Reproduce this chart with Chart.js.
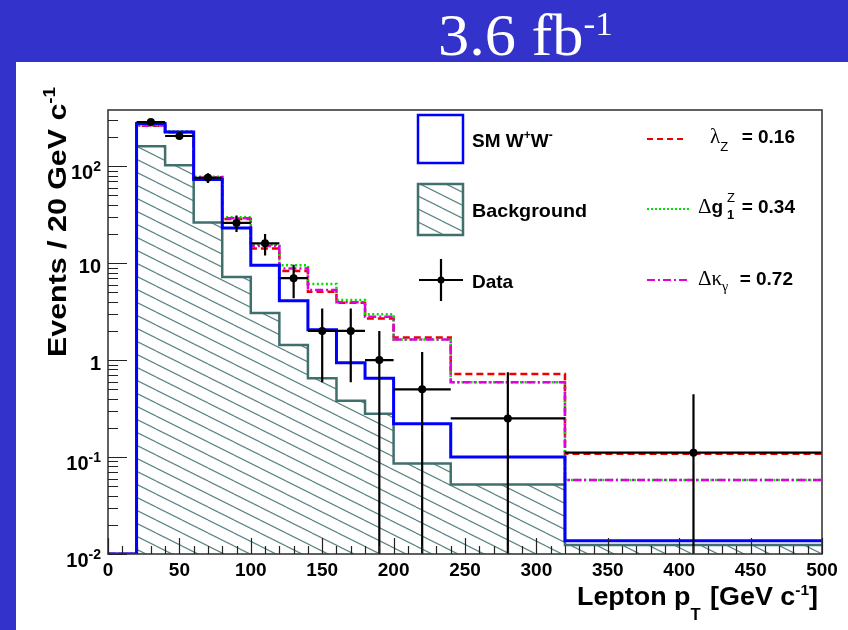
<!DOCTYPE html>
<html><head><meta charset="utf-8">
<script src="https://cdn.jsdelivr.net/npm/chart.js@4.4.0/dist/chart.umd.min.js"></script>
<style>
html,body{margin:0;padding:0;background:#3333cc;width:848px;height:630px;overflow:hidden}
#panel{position:absolute;left:16px;top:62px;width:832px;height:568px;background:#fff}
#wrap{position:absolute;left:0;top:0;width:848px;height:630px}
</style></head><body>
<div id="panel"></div>
<div id="wrap"><canvas id="c" width="848" height="630"></canvas></div>
<script>
// ---- data (Events / 20 GeV c^-1 per bin) ----
const binEdges    = [0, 20, 40, 60, 80, 100, 120, 140, 160, 180, 200, 240, 320, 500];
const smTotal     = [0, 275, 226, 73, 23.1, 9.5, 4.1, 2.06, 0.94, 0.65, 0.22, 0.10, 0.0137];
const background  = [0, 161, 102, 26.3, 7.2, 3.07, 1.43, 0.65, 0.38, 0.28, 0.086, 0.052, 0.0124];
const lambdaZ     = [0, 262, 224, 76, 28.6, 14.2, 8.3, 5.06, 3.9, 2.69, 1.71, 0.72, 0.108];
const deltaG1Z    = [0, 265, 228, 78, 29.8, 15.5, 9.5, 6.1, 4.16, 2.98, 1.63, 0.59, 0.058];
const deltaKgamma = [0, 263, 226, 77, 29, 15, 8.8, 5.3, 3.95, 2.8, 1.63, 0.59, 0.058];
const dataVals    = [null, 285, 205, 76, 26, 16, 7, 2, 2, 1, 0.5, 0.25, 0.111];
const dataErr     = [null, 17, 14.3, 8.7, 5.1, 4, 2.65, 1.41, 1.41, 1, 0.71, 0.5, 0.333];
const xTicks      = [0, 50, 100, 150, 200, 250, 300, 350, 400, 450, 500];
const xMinorStep  = 10;
const yDecades    = [-2, -1, 0, 1, 2];
const yMin = 0.01, yMax = 380;

const SANS = "'Liberation Sans', Arial, Helvetica, sans-serif";
const SERIF = "'Liberation Serif', 'Times New Roman', serif";
const HATCH_COL = '#5b8583', BKG_COL = '#40706e';

function histPoints(vals) {
  return binEdges.map((e, i) => {
    const v = vals[Math.min(i, vals.length - 1)];
    return {x: e, y: v > 0 ? v : yMin};
  });
}
const dataPoints = dataVals.map((v, i) => v == null ? null : {x: (binEdges[i] + binEdges[i + 1]) / 2, y: v}).filter(p => p);

const canvas = document.getElementById('c');
const ctx0 = canvas.getContext('2d');
function makeHatch() {
  const c = document.createElement('canvas'); c.width = 26; c.height = 13;
  const g = c.getContext('2d');
  g.strokeStyle = HATCH_COL; g.lineWidth = 1.2;
  g.beginPath();
  for (const dy of [-13, 0, 13]) { g.moveTo(0, dy); g.lineTo(26, 13 + dy); }
  g.stroke();
  return ctx0.createPattern(c, 'repeat');
}
const hatch = makeHatch();

function richWidth(ctx, segs) {
  let w = 0;
  for (const s of segs) { ctx.font = s.font; w += ctx.measureText(s.t).width + (s.gap || 0); }
  return w;
}
function drawRich(ctx, segs, x, y, opts) {
  opts = opts || {};
  const w = richWidth(ctx, segs);
  const sx = opts.fit ? opts.fit / w : 1;
  ctx.save();
  ctx.translate(x, y);
  if (opts.rot) ctx.rotate(opts.rot);
  ctx.scale(sx, 1);
  ctx.textAlign = 'left'; ctx.textBaseline = 'alphabetic';
  ctx.fillStyle = opts.color || '#000';
  let cx = opts.align === 'right' ? -w : 0;
  for (const s of segs) {
    ctx.font = s.font;
    ctx.fillText(s.t, cx, s.dy || 0);
    cx += ctx.measureText(s.t).width + (s.gap || 0);
  }
  ctx.restore();
}

const rootPlugin = {
  id: 'rootStyle',
  afterDatasetsDraw(chart) {
    const ctx = chart.ctx, xs = chart.scales.x, ys = chart.scales.y, a = chart.chartArea;
    ctx.save();
    ctx.beginPath(); ctx.rect(a.left, a.top, a.right - a.left, a.bottom - a.top); ctx.clip();
    ctx.strokeStyle = '#000'; ctx.lineWidth = 2.2;
    dataVals.forEach((v, i) => {
      if (v == null) return;
      const e = dataErr[i];
      const px = xs.getPixelForValue((binEdges[i] + binEdges[i + 1]) / 2);
      const py = ys.getPixelForValue(v);
      const pl = xs.getPixelForValue(binEdges[i]), pr = xs.getPixelForValue(binEdges[i + 1]);
      const pt = ys.getPixelForValue(v + e);
      const pb = (v - e) > yMin ? ys.getPixelForValue(v - e) : a.bottom + 2;
      ctx.beginPath();
      ctx.moveTo(pl, py); ctx.lineTo(pr, py);
      ctx.moveTo(px, pt); ctx.lineTo(px, pb);
      ctx.stroke();
    });
    ctx.restore();
  },
  afterDraw(chart) {
    const ctx = chart.ctx, xs = chart.scales.x, ys = chart.scales.y, a = chart.chartArea;
    ctx.save();
    ctx.strokeStyle = '#3a3a3a'; ctx.lineWidth = 1.6;
    ctx.strokeRect(a.left, a.top, a.right - a.left, a.bottom - a.top);
    ctx.strokeStyle = '#222'; ctx.lineWidth = 1.2;
    ctx.beginPath();
    for (let v = xs.min; v <= xs.max + 1e-9; v += xMinorStep) {
      const px = Math.round(xs.getPixelForValue(v)) + 0.5;
      const major = xTicks.includes(v);
      ctx.moveTo(px, a.bottom); ctx.lineTo(px, a.bottom - (major ? 16 : 8));
    }
    for (const d of yDecades) {
      for (let m = 1; m <= 9; m++) {
        const v = m * Math.pow(10, d);
        if (v < yMin - 1e-12 || v > yMax) continue;
        const py = Math.round(ys.getPixelForValue(v)) + 0.5;
        ctx.moveTo(a.left, py); ctx.lineTo(a.left + (m === 1 ? 19 : 10), py);
      }
    }
    ctx.stroke();
    for (const d of yDecades) {
      const py = ys.getPixelForValue(Math.pow(10, d));
      if (d === 0 || d === 1) {
        drawRich(ctx, [{t: d === 0 ? '1' : '10', font: `bold 20px ${SANS}`}], 101, py + 10, {align: 'right'});
      } else {
        drawRich(ctx, [{t: '10', font: `bold 20px ${SANS}`}, {t: String(d), font: `bold 14px ${SANS}`, dy: -8}], 101, py + 13, {align: 'right'});
      }
    }
    drawRich(ctx, [
      {t: 'Lepton p', font: `bold 26px ${SANS}`},
      {t: 'T', font: `bold 16px ${SANS}`, dy: 15, gap: 2},
      {t: ' [GeV c', font: `bold 26px ${SANS}`},
      {t: '-1', font: `bold 15px ${SANS}`, dy: -10},
      {t: ']', font: `bold 26px ${SANS}`}
    ], 818, 605, {align: 'right', fit: 241});
    drawRich(ctx, [
      {t: 'Events / 20 GeV c', font: `bold 26px ${SANS}`},
      {t: '-1', font: `bold 16px ${SANS}`, dy: -11}
    ], 66, 357, {rot: -Math.PI / 2, fit: 270});
    ctx.lineWidth = 2.5;
    ctx.strokeStyle = '#0000ff';
    ctx.strokeRect(418, 115, 45, 48);
    ctx.fillStyle = hatch;
    ctx.fillRect(418, 184, 45, 51);
    ctx.strokeStyle = BKG_COL;
    ctx.strokeRect(418, 184, 45, 51);
    ctx.strokeStyle = '#000'; ctx.lineWidth = 2.2;
    ctx.beginPath(); ctx.moveTo(419, 280); ctx.lineTo(463, 280); ctx.moveTo(441, 259); ctx.lineTo(441, 301); ctx.stroke();
    ctx.fillStyle = '#000'; ctx.beginPath(); ctx.arc(441, 280, 3.5, 0, 2 * Math.PI); ctx.fill();
    const LF = `bold 19px ${SANS}`, LS = `bold 12px ${SANS}`;
    drawRich(ctx, [{t: 'SM W', font: LF}, {t: '+', font: LS, dy: -8}, {t: 'W', font: LF}, {t: '-', font: LS, dy: -8}], 472, 147);
    drawRich(ctx, [{t: 'Background', font: LF}], 472, 217, {fit: 115});
    drawRich(ctx, [{t: 'Data', font: LF}], 472, 288);
    ctx.lineWidth = 2;
    ctx.strokeStyle = '#ee0000'; ctx.setLineDash([6, 4]);
    ctx.beginPath(); ctx.moveTo(647, 139); ctx.lineTo(687, 139); ctx.stroke();
    ctx.strokeStyle = '#00dd00'; ctx.setLineDash([2, 2]);
    ctx.beginPath(); ctx.moveTo(647, 209); ctx.lineTo(690, 209); ctx.stroke();
    ctx.strokeStyle = '#e000e0'; ctx.setLineDash([8, 3, 2, 3]);
    ctx.beginPath(); ctx.moveTo(647, 280); ctx.lineTo(690, 280); ctx.stroke();
    ctx.setLineDash([]);
    const GF = `21px ${SERIF}`, SF = `13px ${SANS}`;
    drawRich(ctx, [{t: 'λ', font: GF}, {t: 'Z', font: SF, dy: 8}], 710, 143);
    drawRich(ctx, [{t: '= 0.16', font: LF}], 795, 143, {align: 'right'});
    drawRich(ctx, [{t: 'Δ', font: GF}, {t: 'g', font: LF}], 698, 213);
    drawRich(ctx, [{t: 'Z', font: SF, dy: -11}], 727, 213);
    drawRich(ctx, [{t: '1', font: `bold 13px ${SANS}`, dy: 6}], 727, 213);
    drawRich(ctx, [{t: '= 0.34', font: LF}], 795, 213, {align: 'right'});
    drawRich(ctx, [{t: 'Δκ', font: GF}, {t: 'γ', font: `14px ${SERIF}`, dy: 6}], 698, 285);
    drawRich(ctx, [{t: '= 0.72', font: LF}], 793, 285, {align: 'right'});
    drawRich(ctx, [{t: '3.6 fb', font: `60px ${SERIF}`}, {t: '-1', font: `34px ${SERIF}`, dy: -20}],
             438, 55, {color: '#fff', fit: 175});
    ctx.restore();
  }
};

const lineDs = (label, vals, color, width, dash, order) => ({
  label, data: histPoints(vals), borderColor: color, borderWidth: width, borderDash: dash,
  stepped: 'before', pointRadius: 0, fill: false, order
});

new Chart(canvas, {
  type: 'line',
  data: {
    datasets: [
      {label: 'Background', data: histPoints(background), borderColor: BKG_COL, borderWidth: 2.5,
       backgroundColor: hatch, fill: 'start', stepped: 'before', pointRadius: 0, order: 6},
      lineDs('lambdaZ = 0.16', lambdaZ, '#ee0000', 2.5, [7, 4], 5),
      lineDs('Delta g1Z = 0.34', deltaG1Z, '#00dd00', 2.5, [2, 2.5], 4),
      lineDs('Delta kappa gamma = 0.72', deltaKgamma, '#e000e0', 2.5, [8, 3, 2, 3], 3),
      lineDs('SM W+W-', smTotal, '#0000ff', 3, [], 2),
      {label: 'Data', data: dataPoints, showLine: false, pointRadius: 4, pointBackgroundColor: '#000',
       pointBorderColor: '#000', pointBorderWidth: 0, order: 1}
    ]
  },
  options: {
    animation: false, responsive: false, devicePixelRatio: 1,
    layout: {padding: {left: 0, right: 26, top: 110, bottom: 0}},
    plugins: {legend: {display: false}, tooltip: {enabled: false}},
    scales: {
      x: {type: 'linear', min: 0, max: 500, grid: {display: false, drawTicks: false}, border: {display: false},
          afterBuildTicks: s => { s.ticks = xTicks.map(v => ({value: v})); },
          ticks: {autoSkip: false, maxRotation: 0, padding: 5, color: '#000',
                  font: {family: SANS, weight: 'bold', size: 19}},
          afterFit: s => { s.height = 76; }},
      y: {type: 'logarithmic', min: yMin, max: yMax, grid: {display: false}, border: {display: false},
          ticks: {display: false}, afterFit: s => { s.width = 108; }}
    }
  },
  plugins: [rootPlugin]
});
</script>
</body></html>
